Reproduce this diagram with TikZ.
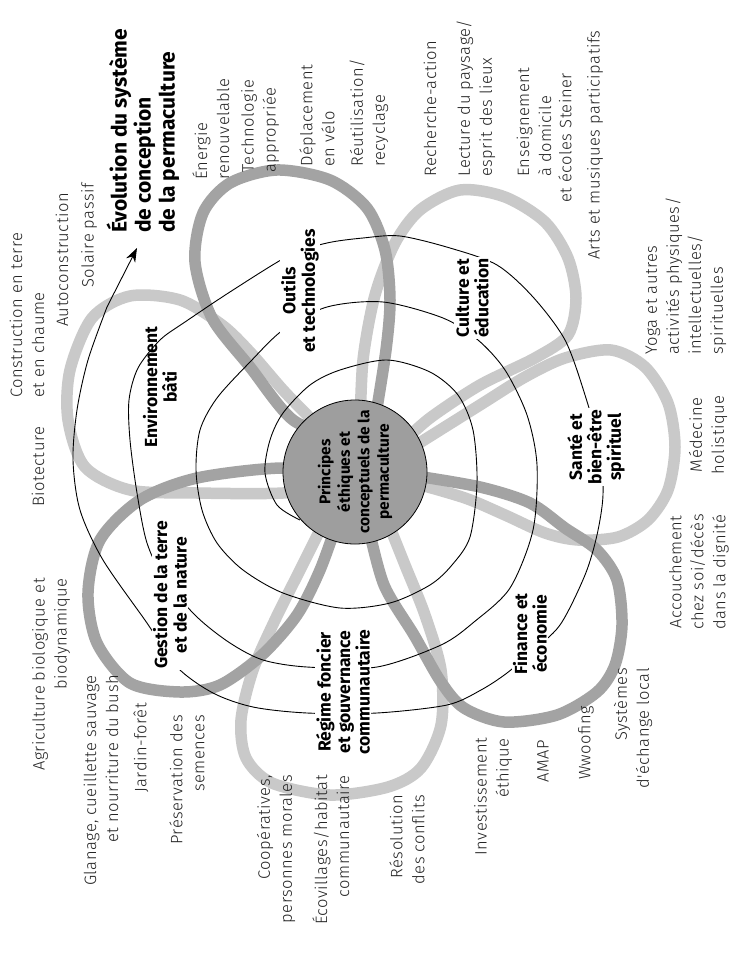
\documentclass[tikz,border=0pt]{standalone}
\usepackage{fontspec}
\setmainfont{Fira Sans}
\newfontfamily\descfont{Fira Sans Light}[LetterSpace=3]
\newfontfamily\labfont{Fira Sans}
\usetikzlibrary{arrows.meta}
\definecolor{lightband}{RGB}{201,201,201}
\definecolor{midband}{RGB}{163,163,163}
\definecolor{corefill}{RGB}{158,158,158}
\definecolor{textgray}{RGB}{35,35,35}
\begin{document}
\begin{tikzpicture}[x=1pt,y=-1pt,
  lightloop/.style={draw=lightband,line width=11.5pt,line cap=round},
  midloop/.style={draw=midband,line width=11.5pt,line cap=round},
  spiralline/.style={draw=black,line width=0.9pt},
  desc/.style={font=\descfont\fontsize{16.5}{22}\selectfont,text=textgray,rotate=90,inner sep=0pt},
  petal/.style={font=\labfont\bfseries\fontsize{17.5}{19.5}\selectfont,rotate=90,align=center,fill=white,inner sep=1.2pt},
  title/.style={font=\labfont\bfseries\fontsize{21}{24}\selectfont,rotate=90,inner sep=0pt},
  core/.style={circle,draw=black,line width=0.8pt,fill=corefill,minimum size=144pt,inner sep=0pt,
    rotate=90,align=center,font=\labfont\bfseries\fontsize{15.5}{19.5}\selectfont}
]
\fill[white] (0,0) rectangle (728,955);
\path[use as bounding box] (0,0) rectangle (728,955);

% ---- light petals
\draw[lightloop] plot[smooth] coordinates {(335,485) (283,493) (197,493) (130,490) (85,467) (68,420) (70,370) (92,318) (130,296) (180,300) (222,325) (250,352) (283,390) (310,418) (335,445)};
\draw[lightloop] plot[smooth] coordinates {(360,430) (363,360) (375,295) (395,243) (420,210) (460,190) (505,197) (545,222) (568,258) (576,298) (568,335) (535,358) (480,385) (430,418) (400,445)};
\draw[lightloop] plot[smooth] coordinates {(405,452) (480,405) (525,377) (565,358) (611,350) (645,367) (668,403) (675,447) (668,490) (648,520) (618,537) (578,540) (545,533) (505,515) (465,498) (410,482)};
\draw[lightloop] plot[smooth] coordinates {(325,520) (300,570) (275,620) (253,670) (241,720) (246,758) (272,783) (330,795) (388,787) (421,768) (441,725) (441,670) (425,615) (405,565) (385,515)};
% ---- medium petals
\draw[midloop] plot[smooth] coordinates {(345,440) (293,420) (250,367) (212,318) (195,262) (203,213) (230,183) (277,170) (330,180) (367,208) (385,250) (390,300) (386,350) (375,420)};
\draw[midloop] plot[smooth] coordinates {(410,475) (480,487) (530,503) (565,528) (597,550) (617,580) (622,625) (615,665) (597,692) (557,715) (504,722) (464,708) (441,682) (414,635) (384,585) (368,525)};
\draw[midloop] plot[smooth] coordinates {(330,478) (283,468) (197,478) (140,500) (100,540) (88,593) (97,643) (130,683) (180,692) (220,685) (262,655) (297,615) (320,570) (338,520)};

% ---- spiral
\draw[spiralline] plot[smooth] coordinates {(300,520) (277,505) (265,473) (270,440) (283,413) (310,385) (340,370) (387,360) (430,372) (458,395) (473,430) (477,483) (470,537) (452,565) (430,585) (390,603) (340,608) (283,593) (243,570) (217,543) (202,510) (196,470) (200,430) (217,398) (250,362) (283,330) (327,307) (383,302) (443,318) (478,340) (505,370) (527,415) (537,465) (533,530) (510,588) (474,622) (441,645) (377,667) (307,667) (263,660) (230,643) (197,617) (165,580) (147,543) (137,493) (130,440) (129,400) (138,368) (160,340) (185,322) (233,290) (290,255) (327,243) (363,238) (400,236) (450,248) (497,265) (533,297) (565,340) (585,395) (600,450) (603,495) (597,535) (585,575) (560,625) (530,653) (507,673) (481,690) (447,705) (377,713) (307,713) (253,707) (213,693) (177,667) (147,623) (103,560) (80,510) (73,460) (77,410) (88,360) (107,307)};
\coordinate (sEnd) at (107,307);
\coordinate (aTip) at (137,248);
\draw[spiralline,-{Stealth[length=14pt,width=10pt]}] (sEnd) -- (aTip);

% ---- core
\node[core] (core) at (355,472) {Principes\\éthiques et\\conceptuels de la\\permaculture};

% ---- petal labels
\node[petal,fill=none] (lenv) at (160,387) {Environnement\\bâti};
\node[petal] (lout) at (300,291) {Outils\\et technologies};
\node[petal] (lcul) at (472,298) {Culture et\\éducation};
\node[petal] (lsan) at (596,447) {Santé et\\bien-être\\spirituel};
\node[petal] (lfin) at (530,634) {Finance et\\économie};
\node[petal] (lreg) at (343,692) {Régime foncier\\et gouvernance\\communautaire};
\node[petal] (lges) at (170,595) {Gestion de la terre\\et de la nature};

% ---- title
\node[title,align=left,anchor=west] (ttl) at (143,233) {Évolution du système\\de conception\\de la permaculture};

% ---- descriptions
\node[desc,align=left,anchor=west] (d1) at (27,398) {Construction en terre\\et en chaume};
\node[desc,anchor=west] (d2) at (38,507) {Biotecture};
\node[desc,anchor=west] (d3) at (62,327) {Autoconstruction};
\node[desc,anchor=west] (d4) at (89,288) {Solaire passif};
\node[desc,align=left,anchor=west] (d5) at (211,180) {Énergie\\renouvelable};
\node[desc,align=left,anchor=west] (d6) at (260,173) {Technologie\\appropriée};
\node[desc,align=left,anchor=west] (d7) at (317,167) {Déplacement\\en vélo};
\node[desc,align=left,anchor=west] (d8) at (369,167) {Réutilisation/\\recyclage};
\node[desc,anchor=west] (d9) at (430,177) {Recherche-action};
\node[desc,align=left,anchor=west] (d10) at (476,177) {Lecture du paysage/\\esprit des lieux};
\node[desc,align=left,anchor=west] (d11) at (534,177) {Enseignement\\à domicile};
\node[desc,anchor=west] (d12) at (565,203) {et écoles Steiner};
\node[desc,anchor=west] (d13) at (595,260) {Arts et musiques participatifs};
\node[desc,align=left,anchor=west] (d14) at (686,355) {Yoga et autres\\activités physiques/\\intellectuelles/\\spirituelles};
\node[desc,align=center] (d15) at (708,435) {Médecine\\holistique};
\node[desc,align=center] (d16) at (699,572) {Accouchement\\chez soi/décès\\dans la dignité};
\node[desc,align=right,anchor=east] (d17) at (633,668) {Systèmes\\d'échange local};
\node[desc] (d18) at (586,743) {Wwoofing};
\node[desc] (d19) at (543,761) {AMAP};
\node[desc,align=right,anchor=east] (d20) at (493,738) {Investissement\\éthique};
\node[desc,align=right,anchor=east] (d21) at (407,795) {Résolution\\des conflits};
\node[desc,align=right,anchor=east] (d22) at (331,775) {Écovillages/habitat\\communautaire};
\node[desc,align=right,anchor=east] (d23) at (276,775) {Coopératives,\\personnes morales};
\node[desc,align=right,anchor=east] (d24) at (187,715) {Préservation des\\semences};
\node[desc] (d25) at (141,748) {Jardin-forêt};
\node[desc,align=right,anchor=east] (d26) at (101,675) {Glanage, cueillette sauvage\\et nourriture du bush};
\node[desc,align=right,anchor=east] (d27) at (51,578) {Agriculture biologique et\\biodynamique};
\end{tikzpicture}
\end{document}
